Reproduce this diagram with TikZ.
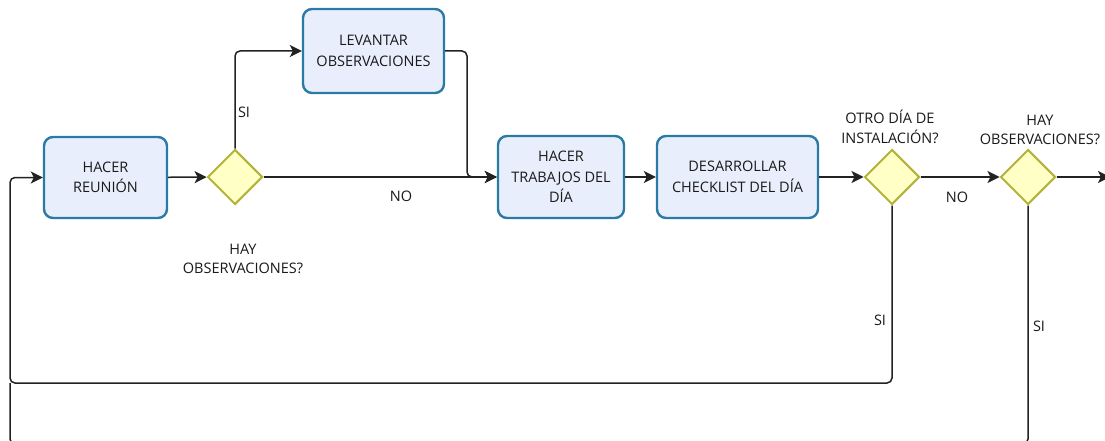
\documentclass[tikz,border=0pt]{standalone}
\usepackage{fontspec}
\setmainfont{Open Sans}
\usetikzlibrary{arrows.meta,shapes.geometric}
\definecolor{boxfill}{HTML}{E8EEFB}
\definecolor{boxline}{HTML}{2A7AA6}
\definecolor{dfill}{HTML}{FFFFC6}
\definecolor{dline}{HTML}{B3B33A}
\definecolor{ln}{HTML}{222222}
\definecolor{txt}{HTML}{1A1A1A}
\begin{document}
\begin{tikzpicture}[x=1pt,y=-1pt,
  task/.style={draw=boxline, line width=2.4pt, fill=boxfill, rounded corners=9pt, align=center, text=txt, font=\fontsize{14.5}{20.5}\selectfont, inner sep=0pt},
  gate/.style={diamond, draw=dline, fill=dfill, line width=2pt, minimum width=55pt, minimum height=55pt, inner sep=0pt},
  flow/.style={draw=ln, line width=1.5pt, -{Stealth[length=12pt,width=12pt,inset=3pt]}, rounded corners=5pt},
  plain/.style={draw=ln, line width=1.5pt, rounded corners=5pt},
  lbl/.style={text=txt, font=\fontsize{14.5}{19.5}\selectfont, align=center, inner sep=0pt}]
\useasboundingbox (0,0) rectangle (1105,441);
\fill[white] (0,0) rectangle (1105,441);
\clip (0,0) rectangle (1105,441);
% nodes
\node[task, minimum width=123pt, minimum height=81pt] (reunion) at (105.5,177.5) {HACER\\REUNIÓN};
\node[gate] (d1) at (235,177) {};
\node[task, minimum width=141pt, minimum height=84pt] (levantar) at (373.5,51) {LEVANTAR\\OBSERVACIONES};
\node[task, minimum width=126pt, minimum height=82pt] (trabajos) at (561,177) {HACER\\TRABAJOS DEL\\DÍA};
\node[task, minimum width=161pt, minimum height=82pt] (checklist) at (737.5,177) {DESARROLLAR\\CHECKLIST DEL DÍA};
\node[gate] (d2) at (892,177) {};
\node[gate] (d3) at (1028,177) {};
% labels
\node[lbl] (q1) at (243,259) {HAY\\OBSERVACIONES?};
\node[lbl] (q2) at (890,127) {OTRO DÍA DE\\INSTALACIÓN?};
\node[lbl] (q3) at (1040,130) {HAY\\OBSERVACIONES?};
% coordinates
\coordinate (lb) at (10,383);
\coordinate (lb2) at (10,444);
\coordinate (jn) at (467,177);
\coordinate (out) at (1110,177);
% connectors
\draw[flow] (reunion) -- (d1);
\draw[flow] (d1.north) |- (levantar.west);
\draw[flow] (d1.east) -- (trabajos.west);
\draw[flow] (levantar.east) -| (jn) -- (trabajos.west);
\draw[flow] (trabajos) -- (checklist);
\draw[flow] (checklist) -- (d2);
\draw[flow] (d2) -- (d3);
\draw[flow] (d3) -- (out);
\draw[flow] (d2.south) |- (lb) |- (reunion.west);
\draw[plain] (d3.south) |- (lb2) -- (lb);
\node[lbl] (si1) at (244,112) {SI};
\node[lbl] (no1) at (401,196) {NO};
\node[lbl] (no2) at (957,197) {NO};
\node[lbl] (si2) at (880,320) {SI};
\node[lbl] (si3) at (1039,326) {SI};
\end{tikzpicture}
\end{document}
